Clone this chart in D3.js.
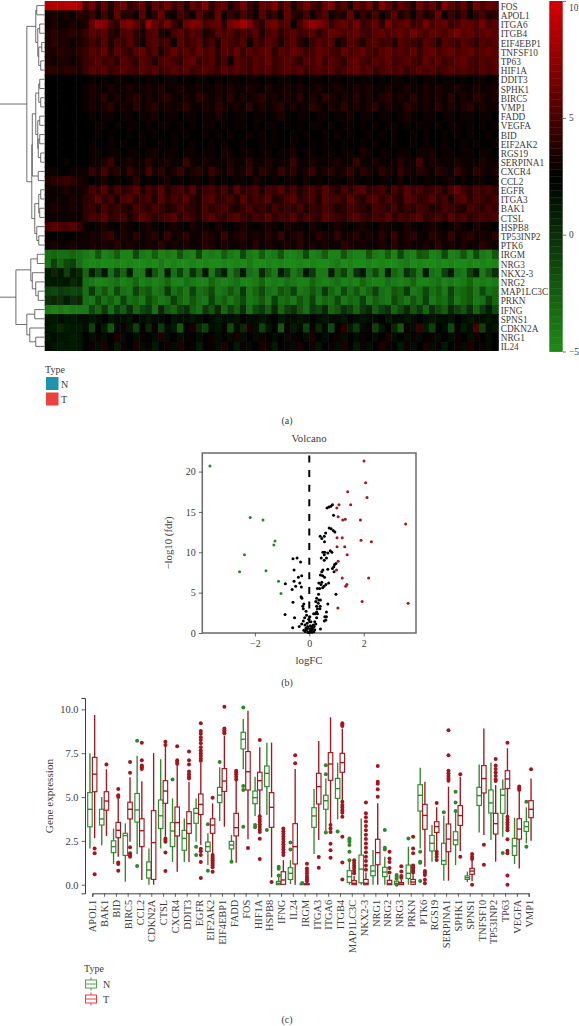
<!DOCTYPE html>
<html>
<head>
<meta charset="utf-8">
<script src="https://cdn.jsdelivr.net/npm/d3@7"></script>
<style>
  html, body { margin: 0; padding: 0; background: #fff; }
  svg { display: block; }
  text { font-family: "Liberation Serif", serif; fill: #3c3c3c; }
</style>
</head>
<body>
<svg id="chart" width="579" height="1026"></svg>
<script>
// heatmap rows, top to bottom
var heatGenes = ["FOS","APOL1","ITGA6","ITGB4","EIF4EBP1","TNFSF10","TP63","HIF1A","DDIT3","SPHK1","BIRC5","VMP1","FADD","VEGFA","BID","EIF2AK2","RGS19","SERPINA1","CXCR4","CCL2","EGFR","ITGA3","BAK1","CTSL","HSPB8","TP53INP2","PTK6","IRGM","NRG3","NKX2-3","NRG2","MAP1LC3C","PRKN","IFNG","SPNS1","CDKN2A","NRG1","IL24"];

// estimated by eye, first 6 columns are the N samples
var heatValues = [
[8.5,9,8.5,9,9,8.5, 5,6.5,4,6,3.5,5.5,6.5,4,5,6,3.5,6,5,6.5,4.5,5.5,3.5,6,5,7,4,5.5,6,3.5,5,6.5,4.5,3.5,6,5.5,7,4.5,6,3.5,5,6.5,5,4,6,7,4.5,5.5,3.5,6,5,6.5,4,7,5.5,4,6,5,3.5,6.5,5,6,4,7,5.5,4.5,6,3.5,6.5,5,6,5.5],
[3,3.5,3,3.5,3,4, 3.5,4.5,3,5,3,6,3.5,4,3,5.5,3,4,6,3.5,3,5,4,3,5.5,4,3.5,6,3,4.5,3.5,5,4,3,5.5,3.5,4.5,3,6,4,3.5,5,3,4.5,5.5,3,4,3.5,6,3,4.5,3.5,5,3,4,5.5,3.5,4.5,3,5,3.5,4,6,3,4.5,3.5,5,3,4,5,3.5,4],
[3,3.5,3,3,3.5,3, 3.5,6,7.5,7,5,4,6.5,7,5.5,4,7.5,6,5,6.5,4.5,3.5,6,7,6.5,5,5.5,6,4,6.5,7,8,7,5,4,6,6.5,5,5.5,3,5,6.5,7.5,7,6,4.5,5.5,6,5,6.5,4.5,5,6,4,6.5,5,5.5,6,4.5,5,6.5,5,5.5,6,4.5,5,6,5.5,5,6.5,5,5.5],
[3.5,4,3.5,3.5,4,3.5, 4.5,5.5,5,5.5,4,3.5,5,5.5,4,3.5,5,5.5,3.5,3,5,5.5,4.5,5.5,5,3.5,4,5.5,5,5.5,4,5,4.5,5.5,3.5,5,5.5,4,5,5.5,4.5,5,5.5,4,5,6,5.5,5,5.5,6,5,4.5,5.5,6,5,5.5,6,5,6.5,5.5,5,6,5.5,5,6,6.5,5.5,6,5,5.5,6,5.5],
[3.5,4,3.5,3.5,3,3.5, 4,5,4,5.5,3.5,5,4.5,5.5,4,3,5,5.5,4.5,5,3,5.5,4.5,5,5.5,4,5,3.5,5.5,5,4.5,5.5,3,5,4.5,5.5,5,3.5,5,5.5,4,3,4.5,5.5,5,5.5,3,4,5.5,5,3.5,5,5.5,4.5,5,3.5,5.5,5,4.5,4,5.5,5,3.5,5.5,5,4.5,5.5,5,4,5.5,5,5.5],
[3.5,3.5,4,3.5,3.5,4, 4.5,5.5,5,6,4,5.5,5,4,5.5,6,4.5,5.5,3.5,5,6,5,5.5,4.5,6,5,5.5,4,5.5,5,6,4.5,5.5,5,5.5,6,4,5.5,5,6,5.5,4.5,5,6,5.5,5,4.5,6,5,5.5,6,5,4.5,5.5,6,5,5.5,5,6,4.5,5.5,6,5,5.5,6,5,5.5,6,5,5.5,6,5.5],
[3.5,3,3.5,3.5,3,3.5, 4.5,5,5.5,4.5,5,4,5.5,5,4,5.5,5,3.5,5,5.5,5,4,5.5,6,4.5,5,5.5,4,5,3,5.5,5,4.5,5.5,5,6,4.5,5,5.5,5,4,5.5,5,6,4.5,5.5,5,4,5.5,6,5,4.5,5.5,5,6,4.5,5,5.5,5,4.5,6,5,5.5,4.5,5,5.5,6,5,4.5,5.5,5,5.5],
[4,4,3.5,4,4,3.5, 4.5,5.5,5,5.5,4.5,5,5.5,5,4.5,5.5,5,5.5,4.5,5,5.5,5,5.5,4.5,5,5.5,5,4.5,5.5,5,5.5,5,4.5,5.5,5,5.5,4.5,5,5.5,5,5.5,4.5,5,5.5,5,5.5,4.5,5,5.5,6,5,5.5,4.5,5,5.5,5,5.5,4.5,5,5.5,5,5.5,4.5,5,5.5,5,5.5,5,4.5,5.5,5,5.5],
[2.5,2.5,2.5,2.5,2.5,2.5, 2.5,3,2.5,3,2.5,3,3,2.5,3,2.5,3,3,2.5,3,3,2.5,3,2.5,3,3,2.5,3,2.5,3,3,2.5,3,3,2.5,3,2.5,3,3,2.5,3,2.5,3,3,2.5,3,3,2.5,3,2.5,3,3,2.5,3,2.5,3,3,2.5,3,2.5,3,3,2.5,3,3,2.5,3,2.5,3,3,2.5,3],
[2.5,2.5,2.5,2.5,2.5,2.5, 3,3.5,3,3,3.5,3,3,3.5,3,3,3.5,3,3.5,3,3,3.5,3,3,3.5,3,3,3.5,3,3.5,3,3,3.5,3,3,3.5,3,3,3.5,3,3.5,3,3,3.5,3,3,3.5,3,3,3.5,3,3.5,3,3,3.5,3,3,3.5,3,3,3.5,3,3.5,3,3,3.5,3,3,3.5,3,3,3.5],
[2.5,2.5,2.5,2.5,2.5,2.5, 3,3.5,3,4,3,3.5,3,3.5,4,3,3.5,3,3.5,4,3,3,3.5,3,4,3.5,3,3.5,3,4,3,3.5,3,3.5,4,3,3.5,3,3.5,3,4,3,3.5,3,4,3.5,3,3.5,3,4,3,3.5,3,3.5,4,3,3.5,3,4,3,3.5,3,3.5,3,4,3,3.5,3,4,3.5,3,3.5],
[2.5,2.5,2.5,2.5,2.5,2.5, 3,3.5,3,3.5,4,3,3.5,3,4,3,3.5,4,3,3.5,3,3.5,4,3,3,3.5,3,4,3.5,3,3.5,3,4,3,3.5,3,3.5,4,3,3.5,3,3,4,3.5,3,3.5,3,4,3,3.5,3,3.5,4,3,3.5,3,3,4,3.5,3,3.5,3,4,3,3.5,3,3.5,4,3,3.5,3,3],
[2.5,2.5,2.5,2.5,2.5,2.5, 2.5,3,2.5,3,3,2.5,3,3,2.5,3,3,3.5,2.5,3,3,2.5,3,3,2.5,3,3,3.5,3,2.5,3,3,2.5,3,3,2.5,3,3.5,3,2.5,3,3,2.5,3,3,2.5,3,3,3.5,2.5,3,3,2.5,3,3,2.5,3,3.5,3,2.5,3,3,2.5,3,3,2.5,3,3,2.5,3,3,2.5],
[2.5,2.5,2.5,2.5,2.5,2.5, 2.5,2.5,3,3,2.5,3,2.5,3,3,2.5,3,2.5,3,3,2.5,3,2.5,3,2.5,3,3,2.5,3,2.5,3,3,2.5,3,2.5,3,3,2.5,3,2.5,3,2.5,3,3,2.5,3,2.5,3,3,2.5,3,2.5,3,2.5,3,3,2.5,3,2.5,3,3,2.5,3,2.5,3,3,2.5,3,2.5,3,2.5,3],
[2.5,2.5,2.5,2.5,2.5,2.5, 2.5,2.5,3,2.5,3,2.5,2.5,3,2.5,3,2.5,3,2.5,2.5,3,2.5,3,2.5,2.5,3,2.5,3,2.5,3,2.5,2.5,3,2.5,3,2.5,3,2.5,2.5,3,2.5,3,2.5,2.5,3,2.5,3,2.5,3,2.5,2.5,3,2.5,3,2.5,3,2.5,2.5,3,2.5,3,2.5,2.5,3,2.5,3,2.5,3,2.5,2.5,3,2.5],
[2.5,2.5,2.5,2.5,2.5,2.5, 2.5,3,2.5,2.5,3,2.5,3,2.5,2.5,3,2.5,2.5,3,2.5,3,2.5,2.5,3,2.5,2.5,3,2.5,3,2.5,2.5,3,2.5,2.5,3,2.5,3,2.5,2.5,3,2.5,2.5,3,2.5,3,2.5,2.5,3,2.5,2.5,3,2.5,3,2.5,2.5,3,2.5,2.5,3,2.5,3,2.5,2.5,3,2.5,2.5,3,2.5,3,2.5,2.5,3],
[2.5,2.5,2.5,2.5,2.5,2.5, 2.5,3,3,2.5,3,3,2.5,3,3,2.5,3,3.5,2.5,3,3,2.5,3,3,2.5,3,3,2.5,3.5,3,2.5,3,3,2.5,3,3,2.5,3,3,3.5,2.5,3,3,2.5,3,3,2.5,3,3,2.5,3.5,3,2.5,3,3,2.5,3,3,2.5,3,3,3.5,2.5,3,3,2.5,3,3,2.5,3,3,2.5],
[2.5,2.5,2.5,3,2.5,2.5, 2.5,3,3,3.5,4.5,3,3,3.5,3,3,4,3,3,3.5,3,3,4.5,3,3,3.5,3,3,3,3.5,3,3,4,3,3,3.5,3,3,3,4.5,3,3,3.5,3,3,3,3.5,3,3,4.5,3,3,3.5,3,3,3,4,3,3,5,3,3.5,3,3,3,3.5,3,3,3,3.5,3,3],
[3,3,2.5,2.5,3,3, 3,4.5,3.5,5,3.5,4,3,4.5,3.5,3,5,3.5,4,3,3.5,4.5,3,3.5,4,3,4.5,3.5,3,4,3,3.5,4.5,3,4,3.5,3,4.5,3.5,4,3,3.5,4.5,3,3.5,4,3,3.5,4.5,3,4,3.5,3,4,3.5,3,4.5,3.5,3,4,3.5,3,4,3.5,3,4.5,3.5,3,4,3.5,3,3.5],
[3.5,4,4,4.5,4,3.5, 3,2.5,3,3.5,2.5,3,2.5,3,4,2.5,3,2.5,3,3.5,2.5,3,2.5,3,3,2.5,3.5,2.5,3,2.5,3,3,2.5,3.5,3,2.5,3,2.5,3,3,2.5,3.5,2.5,3,2.5,3,3,2.5,3.5,3,2.5,3,2.5,3,3,2.5,3.5,2.5,3,2.5,3,3,2.5,3,3.5,2.5,3,2.5,3,3,2.5,3],
[3,3,3,3.5,3,3, 3.5,5,4,5.5,3.5,5,4,4.5,5.5,3.5,5,4,5.5,3.5,4.5,5,4,5.5,3.5,4.5,5,4,5,3.5,5.5,4,4.5,5,3.5,5,4.5,5.5,4,5,3.5,4.5,5,4,5.5,4.5,3.5,5,4,5,5.5,4,4.5,5,3.5,5,4,5.5,4.5,5,4,4.5,5,3.5,5,6,4.5,4,5,4.5,5,4],
[3,3,3,3,3.5,3, 4,4.5,5.5,4,5,3.5,5,5.5,4,4.5,5,3.5,5.5,4,5,4.5,5.5,4,3.5,5,5.5,4,4.5,5,3.5,5.5,4,5,4.5,5.5,3.5,4,5,5.5,4,4.5,5,3.5,5.5,4.5,5,4,5.5,4.5,3.5,5,5.5,4,5,4.5,3.5,5.5,5,4,4.5,5.5,4,5,3.5,5,5.5,4,5,4.5,4,5],
[3,3.5,3,3,3.5,3, 4,4.5,3.5,5,4,4.5,4,3.5,5,4.5,4,5,4.5,3.5,4,5,4.5,4,3.5,5,4,4.5,5,4,3.5,4.5,5,4,4.5,3.5,5,4,4.5,4,5,3.5,4.5,4,5,4.5,3.5,4,5,4.5,4,3.5,5,4.5,4,5,3.5,4.5,4,5,4.5,3.5,4,5,4.5,4,3.5,5,4.5,4,5,4.5],
[3,3,3,3,3,3, 4,5,4.5,5.5,4,4.5,5,3.5,4.5,5.5,5,4,4.5,5,5.5,4,5,4.5,3.5,5,5.5,4.5,4,5,5.5,4.5,4,5,4.5,5.5,4,5,4.5,5.5,4,5,4.5,4,5.5,5,4.5,4,5,5.5,4.5,4,5,4.5,5.5,4,5,4.5,5,5.5,4,4.5,5,4,5.5,4.5,5,4,4.5,5,4.5,5],
[5,5.5,5,5,5.5,4.5, 3,2.5,3,3.5,3,2.5,3.5,3,2.5,3,3.5,3,2.5,3,3.5,3,2.5,3.5,3,3,2.5,3.5,3,2.5,3,3.5,3,2.5,3,3.5,3,2.5,3.5,3,3,2.5,3.5,3,2.5,3,3.5,3,2.5,3,3.5,3,2.5,3.5,3,3,2.5,3.5,3,2.5,3,3.5,3,2.5,3,3.5,3,2.5,3.5,3,3,2.5],
[2.5,2.5,3,2.5,2.5,3, 3,3.5,3,4,4.5,3,3.5,3,4,3,3.5,4,3,4.5,3,3.5,4,3,3,4,3.5,3,4.5,3,3.5,4,3,3.5,3,4,3,4.5,3,3.5,4,3,3,4,3.5,3,4.5,3,3.5,4,3,3.5,3,4,3,4.5,3,3.5,4,3,3,4,3.5,3,4.5,3,3.5,4,3,3.5,3,4],
[3,3.5,3,3,3.5,3, 3,3.5,3,3.5,3,4,3,3.5,3,3,3.5,3,4,3,3.5,3,3.5,3,3,4,3.5,3,3.5,3,3,3.5,3,4,3,3.5,3,3,3.5,3,4,3,3.5,3,3.5,3,3,4,3.5,3,3.5,3,3,3.5,3,4,3,3.5,3,3,3.5,3,4,3,3.5,3,3.5,3,3,4,3.5,3],
[-3.5,-3,-3.5,-3.5,-3,-3.5, -4,-4.5,-2,-4.5,-4,-2.5,-4.5,-4.5,-1.5,-4,-4.5,-2.5,-4.5,-4,-4.5,-2,-4,-4.5,-1.5,-4.5,-4,-4.5,-2.5,-4,-4.5,-1.5,-4,-4.5,-2.5,-4.5,-4,-2,-4.5,-4.5,-4,-1.5,-4.5,-4,-2.5,-4.5,-4.5,-2,-4,-4.5,-4.5,-2,-4,-4.5,-2.5,-4.5,-1.5,-4,-4.5,-2,-2.5,-4.5,-4,-1.5,-4.5,-4,-2,-4.5,-1.5,-4,-4.5,-2],
[-3.5,-1,-3,-1.5,-1,-3.5, -4.5,-5,-4.5,-5,-5,-4.5,-5,-4.5,-5,-5,-4.5,-5,-4,-5,-4.5,-5,-5,-4.5,-5,-4.5,-5,-5,-4.5,-5,-4.5,-5,-4,-5,-5,-4.5,-5,-4.5,-5,-5,-4.5,-5,-4.5,-5,-5,-4.5,-4,-5,-4.5,-5,-5,-4.5,-5,-4.5,-5,-5,-4.5,-4,-5,-4.5,-5,-5,-4.5,-5,-4.5,-5,-5,-4.5,-5,-4.5,-5,-4.5],
[1.5,0.5,1.5,-1,1,0.5, -3,1,-1.5,1.5,-3.5,-0.5,-3,1,-4,-4,1.5,-2,-4,1,-3.5,-1,-4,0,-3,1.5,-4,-1,1,-4,-2,1.5,-3.5,-4,0.5,-2.5,-4,1,-1,-4,-3,1.5,-0.5,-4,-4,1,-3,-1,-4,0,1.5,-3.5,-1.5,-4,1,-3,-4,0,-1.5,-4,1,-3.5,-4,-1,1,-3.5,-4,-1,1,-4,-2,0],
[1,1.5,1,1.5,0.5,1, -3.5,-4,-4.5,-4.5,-4,-3.5,-4.5,-4,-3,-4.5,-4,-4.5,-4,-3,-4.5,-4.5,-3.5,-4,-4.5,-4.5,-3,-4,-4.5,-4,-3.5,-4.5,-4.5,-4,-3,-4.5,-4,-4.5,-3.5,-4,-4.5,-4.5,-3,-4,-4.5,-4,-3.5,-4.5,-4,-4.5,-3,-4,-4.5,-4.5,-3.5,-4,-4.5,-4,-3,-4.5,-4.5,-4,-3.5,-4.5,-4,-4.5,-4,-3,-4.5,-4,-4.5,-4],
[-1,-1.5,-0.5,-1,-1.5,-1, -3.5,-0.5,-3.5,-2,-4,-1.5,-3.5,-4,-1,-3,-2,-4,-3.5,-0.5,-3.5,-2.5,-4,-1,-3.5,-3,-1.5,-4,-3.5,-2,-3.5,-0.5,-4,-3,-1.5,-3.5,-4,-2,-3,-1,-4,-3.5,-2,-3.5,-0.5,-3,-4,-1.5,-3.5,-2,-4,-3,-1,-3.5,-4,-2,-3,-0.5,-4,-3.5,-1.5,-3.5,-2.5,-4,-1,-3.5,-3,-2,-4,-1.5,-3.5,-3],
[0,0.5,0,1,0,0.5, -3.5,-4,-1.5,-3.5,-2.5,-4,-1,-3.5,-3,-4,-1.5,-3,-4,-3.5,-1,-3,-4,-2,-3.5,-4,-1,-3.5,-2.5,-4,-3,-1.5,-4,-3.5,-2,-4,-1,-3.5,-3,-4,-2,-3.5,-1,-4,-3,-3.5,-1.5,-4,-3,-3.5,-1,-4,-2.5,-3.5,-4,-1.5,-3,-4,-2,-3.5,-1,-4,-3,-3.5,-1.5,-4,-3,-2,-4,-3.5,-1,-3],
[-4,-4.5,-4,-4.5,-4,-4, -4,-1.5,-3,-0.5,-3.5,-1,-2.5,0,-3,-1.5,-0.5,-3.5,0.5,-2,-3,-1,0,-2.5,-3.5,-0.5,-2,0.5,-3,-1,-2.5,0,-3.5,-1.5,-0.5,-2.5,0.5,-3,-1,0,-2,-3.5,-0.5,-1.5,0.5,-3,-2,0,-1,-3,-0.5,0.5,-2.5,-1,0,-3,-1.5,0.5,-2,-0.5,-3,0,-1.5,-2.5,0.5,-1,-2,0,-3,-0.5,1,-1.5],
[1.5,1.5,2,1.5,1.5,2, 2,1.5,2,2.5,1.5,2,2,1.5,2.5,2,1.5,2,2,2.5,1.5,2,2,1.5,2,2.5,2,1.5,2,2,1.5,2.5,2,2,1.5,2,2.5,1.5,2,2,1.5,2,2.5,2,1.5,2,2,1.5,2.5,2,1.5,2,2,2.5,1.5,2,2,1.5,2,2.5,2,1.5,2,2,1.5,2.5,2,1.5,2,2,1.5,2],
[1.5,1,0.5,1,1.5,1, 2,-1,2.5,1,-2,2,3,1.5,-1,2.5,0.5,3,-0.5,2,1,-2,2.5,3.5,0.5,-1,2,1.5,3,-1.5,2,0.5,3.5,2,-1,1.5,2.5,-2,3,1,2,-1,3,0.5,2,-1.5,2.5,4,1,-0.5,2,3,-1,1.5,2.5,0.5,-2,3,2,4.5,1,-1,2.5,2,-1.5,3,1,2,5,-1,2,1.5],
[1.5,2,1.5,1.5,1,1.5, 2.5,2,3,2,2.5,3.5,2,2.5,2,3,2.5,2,3.5,2,2.5,2,3,2.5,2,2.5,3,2,2.5,2,3.5,2,2.5,2,3,2.5,2,2.5,2,3,2.5,2,3.5,2.5,2,2.5,3,2,2.5,2,3,2.5,2,2.5,3.5,2,2.5,2,3,2,2.5,3,2,2.5,2,3,2.5,2,3,2.5,2,2.5],
[2,1.5,1,1.5,1,1.5, 2.5,3,2,3.5,2.5,1,3,2.5,3.5,2,3,1,2.5,3,2,3.5,2.5,3,1,2.5,3,2,3.5,2.5,1,3,2,2.5,3.5,3,1,2.5,3,2,3.5,2.5,3,1.5,2.5,3,2,3.5,2.5,1,3,2,2.5,3.5,3,2.5,1,3,2,2.5,3.5,2,3,1,2.5,3,2,3.5,2.5,3,2,2.5]
];

// dendrogram as nested [height, left, right], numbers are row indexes
var heatTree = [47,
  [18,
    [9,[8,0,1],[7,[5,2,3],[6,[3,4,5],[4,6,7]]]],
    [13,
      [12.5,[9,[6,[5,8,9],[4,10,11]],[7,[5,12,13],[6.5,[5,14,15],[4,16,17]]]],[6.5,18,19]],
      [10,[6,[4,20,21],[5,22,23]],[8,24,[6,25,26]]]]],
  [29,
    [14,[7.5,27,28],[12.5,29,[9,30,[6.5,31,32]]]],
    [18,[10,33,34],[15,35,[9,36,37]]]]];

var heatLegendTicks = [10, 5, 0, -5];

// volcano points [logFC, -log10 fdr]
var volcanoDown = [[-3.65,20.7],[-2.17,14.3],[-1.7,14],[-1.26,11.4],[-1.3,10.9],[-2.38,9.7],[-2.56,7.6],[-1.59,7.7],[-1.13,6.4],[-1.04,4.9]];
var volcanoUp = [[2.01,21.3],[2.07,18.6],[1.41,17.5],[2.12,16.8],[1.09,15.9],[1.52,15.9],[1.01,15.5],[1.06,14.4],[1.23,14],[1.32,14.1],[1.88,14],[3.54,13.5],[1.02,11.8],[1.21,11.8],[1.9,11.5],[2.28,11.3],[1.02,10.7],[1.3,10.7],[1.39,9.7],[1.06,8.9],[1,7.8],[1.21,6.8],[2.18,6.8],[1.38,6],[1.34,5.8],[1.94,3.9],[1.05,3.1],[3.63,3.7]];
var volcanoFlat = [[0.65,15.5],[0.72,15.6],[0.79,15.7],[0.85,15.9],[0.89,14.6],[0.73,13],[0.8,12.9],[0.88,12.7],[0.94,12.5],[0.6,12.4],[0.4,12],[0.55,12],[0.46,11.7],[0.56,11.3],[0.77,10.2],[0.57,10],[0.5,10],[0.68,9.9],[0.83,10],[0.55,9.7],[0.44,9.3],[0.63,9.3],[0.55,9],[0.93,8.5],[0.98,8.6],[0.9,8.2],[0.85,8],[0.68,7.9],[0.5,7.8],[0.46,7.6],[0.91,7.6],[0.41,7.2],[0.49,7.1],[0.56,6.9],[0.35,6.2],[0.46,6.3],[0.71,6.2],[0.61,6],[0.54,5.8],[0.43,6],[0.49,5.6],[0.38,5.5],[0.3,5.5],[0.98,4.8],[0.34,4.8],[0.27,4.3],[0.35,4.1],[0.41,4.1],[0.24,3.9],[0.33,3.7],[0.68,3.6],[0.27,3.3],[0.4,3.3],[0.3,3],[0.39,3],[0.27,2.6],[0.16,2.4],[0.22,2.4],[0.3,2.4],[0.63,2.6],[0.57,2],[0.63,2],[0.61,1.6],[0.55,1.5],[0.27,1.9],[0.2,1.4],[0.15,1],[0.24,1.1],[0.18,0.8],[0.41,0.5],[0.12,0.5],[-0.6,9.2],[-0.45,9.3],[-0.32,8.8],[-0.56,7.8],[-0.28,7.1],[-0.4,6.9],[-0.56,6.4],[-0.88,6.1],[-0.35,6.2],[-0.29,5.7],[-0.63,5.4],[-0.5,5.8],[-0.3,4.5],[-0.27,4.3],[-0.6,3.8],[-0.2,3.6],[-0.24,3.3],[-0.22,3],[-0.12,2.7],[-0.89,2.3],[-0.1,2.2],[-0.54,1.9],[-0.17,1.9],[-0.22,1.5],[-0.28,1.1],[-0.37,0.8],[-0.61,0.65],[-0.16,1],[-0.12,0.6],[-0.05,0.1],[0.02,0.2],[0.08,0.3],[-0.1,0.4],[0.05,0.5],[-0.03,0.6],[0.1,0.1],[-0.15,0.2],[0,0.05],[-0.06,0.8],[0.04,0.9],[-0.08,1.2],[0.06,1.4],[-0.02,1.7],[0.02,2],[0.1,0.7],[-0.2,0.35],[0.17,0.15],[0.2,0.4],[0.14,0.9]];

// boxplot genes, alphabetical
var boxGenes = ["APOL1","BAK1","BID","BIRC5","CCL2","CDKN2A","CTSL","CXCR4","DDIT3","EGFR","EIF2AK2","EIF4EBP1","FADD","FOS","HIF1A","HSPB8","IFNG","IL24","IRGM","ITGA3","ITGA6","ITGB4","MAP1LC3C","NKX2-3","NRG1","NRG2","NRG3","PRKN","PTK6","RGS19","SERPINA1","SPHK1","SPNS1","TNFSF10","TP53INP2","TP63","VEGFA","VMP1"];

// [low whisker, q1, median, q3, high whisker]
var normalStats = [[2.07,3.3,4.3,5.25,7.5],[2.25,3.4,3.75,4.3,5],[1.18,1.83,2.17,2.5,3.2],[0.17,1.67,2.8,2.93,3.5],[1.75,3.57,4.26,5.2,7.35],[0,0.38,0.84,1.3,2.07],[2.07,3.2,3.93,4.83,7.15],[1.3,2.17,3.06,3.54,4.92],[1.3,1.96,2.64,3.1,3.78],[2.45,3.5,4.07,4.35,4.92],[1.12,1.9,2.17,2.43,2.93],[3.63,4.68,5.11,5.55,6.69],[1.4,2.04,2.26,2.47,2.83],[6.58,7.74,8.29,8.69,9.45],[3.92,4.62,4.96,5.34,6.16],[3.97,5.59,6.35,6.77,8.1],[0,0,0.08,0.19,0.46],[0.04,0.3,0.65,0.97,1.4],[0,0,0.02,0.05,0.08],[1.75,3.27,3.92,4.39,5.46],[3.02,4.3,4.79,5.1,6.06],[3.73,4.92,5.48,6.06,6.96],[0,0.13,0.46,0.8,1.4],[0,0.11,0.89,1.69,3.78],[0,0.51,0.78,1.08,1.98],[0,0.46,0.72,0.99,1.6],[0,0.02,0.08,0.2,0.45],[0,0.36,0.65,1.12,2.17],[2.07,4.2,5.1,5.7,6.67],[1.31,1.92,2.36,2.81,3.4],[0.23,1.16,1.37,2.36,3.94],[1.12,2.28,2.55,3.02,4.16],[0.15,0.3,0.4,0.5,0.75],[2.97,4.52,5.08,5.55,6.86],[2.55,4.09,4.66,5.4,6.96],[2.74,4.07,5.1,5.44,6],[1.18,1.67,2.21,2.64,3.82],[2.36,3.04,3.31,3.59,4.41]];
var tumorStats = [[2.65,5.3,6.3,7.26,9.68],[2.78,4.25,4.77,5.3,6.58],[1.6,2.68,3.1,3.55,4.9],[2.45,3.75,4.3,4.7,6.12],[0.27,2.17,3.08,3.76,5.9],[0,0.3,2.4,4.22,7.5],[2.74,4.64,5.34,5.93,7.9],[0.74,2.78,3.54,4.43,6.9],[1.3,2.93,3.48,4.16,5.87],[2.26,4,4.58,5.17,6.96],[1.7,2.93,3.4,3.76,4.64],[3.31,5.32,5.91,6.62,8.5],[1.25,2.78,3.25,4.07,5.97],[2.59,5.4,6.44,7.59,9.92],[3.88,5.4,5.93,6.41,7.83],[0.42,3.27,4.41,5.25,8.1],[0,0.02,0.27,0.74,1.4],[0,1.18,2.17,3.48,6.6],[0,0,0.02,0.06,0.15],[2.55,4.6,5.59,6.35,8.19],[3.46,5.95,6.88,7.53,9.54],[4.83,6.41,6.96,7.49,8.9],[0,0,0.08,0.23,0.5],[0,0,0.08,0.3,0.7],[0,1.14,1.83,2.59,4.64],[0,0,0.06,0.25,0.55],[0,0,0.04,0.12,0.3],[0,0.02,0.15,0.3,0.6],[1.03,3.16,3.95,4.58,5.87],[1.98,2.98,3.31,3.59,4.41],[0.23,1.88,2.6,3.46,5.59],[1.92,3.38,3.94,4.51,6.16],[0.2,0.59,0.78,0.93,1.4],[2.83,5.23,6.05,6.79,8.9],[1.31,2.89,3.48,4.07,5.68],[3.97,5.48,6.03,6.5,7.78],[0.93,2.6,3.17,3.76,5.3],[2.51,3.82,4.3,4.79,6.06]];

var normalOutliers = [[],[],[],[],[8.2,1.06],[],[],[6],[],[2.17,1.7],[3.44,0.8],[7],[1.31],[10.1,5.63,5.4,3.31],[3.4,3.27],[3.12],[1.03,0.91,0.53],[2.4,2],[0.1],[],[6.81,6.29,2.97],[3.04],[2.64,2.55,2.45,2.26,1.88,1.4],[],[],[3.12,2.11,2],[0.55,0.45,0.35,0],[2.64],[1.88,1.31,1.25,0.21],[],[4.13],[5.3,4.68,4.2],[],[],[],[1.81],[],[4.73,2.17]];
var tumorOutliers = [[2.07,1.8,0.6],[6.85],[5.45,5.1,5,1.27,1.18,0.8],[7,6.38,2.13,1.8,1.7,1.6],[8.1,7.1,6.8,6.7,6.6],[],[8.15,7.97,2.64,2.55,2.45,1.83,0.78],[7.9,7.1,7,6.9],[7.6,7.1,6.85,6.45,6.3,6.15,6.06],[9.2,8.76,8.6,8.4,8.25,8.06,7.83,7.65,7.5,7.35,7.2,7.07,2.05,1.9,1.7,1.3,0.38],[4.96,1.7,1.6,1.5,1.4,1.3,1.2,1.1,1,0.74],[10.15,8.9,8.8,8.7,8.63],[6.5,6.4,6.3,6.15,6],[2.09],[8.25,3.9,3.75,3.6,3.45,3.3,3.15,3,2.62,1.46],[0.15],[3.2,3.05,2.9,2.75,2.6,2.45,2.3,2.15,2,1.85,1.7],[7.38,6.92],[1.2,0.93,0.8,0.65,0.5,0.4,0.3,0.2],[1.58,0.97],[3.4,3.2,3,2.34,1.96,1.54],[9.2,9.12,9.05,4.73,4.55,4.4,4.25,4.1,3.88,2.74,1.27,0.3],[1.4,1.25,1.1,0.95,0.8,0.65],[4.68,4.07,3.85,3.6,3.35,3.1,2.85,2.6,2.35,2.1,1.85,1.6,1.35,1.1,0.85],[6.77,5.87,5.75,5.44,5.02],[1.88,1.5,1.3,0.95,0.7],[1.05,0.75,0.5,0.4],[2.74,2.07,1.79,1.1,1,0.9,0.8,0.7],[0.78,0.68,0.55,0.28,0.08],[4.66,1.88,1.75,1.6,1.41],[8.8,7.38,6.5,6.35,6.2,6.05,5.93],[6.29,1.6],[1.75,1.6,1.46,0],[2.28,1.14],[7.17,6.8,6.6,6.4,6.2,6,5.91],[8.1,3.87,3.7,3.55,3.4,3.25,3.1,2.59,1.93,1.79,0.53,0],[5.6,5.5,5.4],[6.58]];

var boxYTicks = [0, 2.5, 5, 7.5, 10];

var svg = d3.select("#chart");
var heatGreen = "#1f8a17", heatRed = "#d60000";
var normalColor = "#2c8a2c", tumorColor = "#a5141f";
var inkColor = "#3c3c3c";

function addText(x, y, str, size, anchor) {
    return svg.append("text")
        .attr("x", x).attr("y", y)
        .attr("font-size", size)
        .attr("text-anchor", anchor || "start")
        .text(str);
}

// ---------- (a) heatmap ----------
var heatColor = d3.scaleLinear().domain([-5, 2.5, 10]).range([heatGreen, "#000000", heatRed]);
var heatY = d3.scaleBand().domain(d3.range(heatGenes.length)).range([1, 351]);

svg.append("defs").append("filter").attr("id", "soft")
    .attr("x", "0").attr("y", "0").attr("width", "1").attr("height", "1")
    .append("feGaussianBlur").attr("stdDeviation", "0.6 0.3");

var heatCells = svg.append("g").attr("filter", "url(#soft)");
heatValues.forEach(function(row, r) {
    var heatX = d3.scaleBand().domain(d3.range(row.length)).range([44.7, 498.3]);
    heatCells.selectAll(null)
        .data(row)
        .enter()
        .append("rect")
        .attr("x", function(d, c) { return heatX(c); })
        .attr("y", heatY(r))
        .attr("width", heatX.bandwidth() + 0.5)
        .attr("height", heatY.bandwidth() + (r < heatValues.length - 1 ? 1 : 0))
        .attr("fill", function(d) { return heatColor(d); });
});

heatGenes.forEach(function(g, r) {
    addText(500.7, heatY(r) + heatY.bandwidth() / 2 + 4.1, g, 9.3);
});

// dendrogram, recursive so the brackets follow the rows
var treeX = d3.scaleLinear().domain([0, 45]).range([44.7, 0]);
var treePath = d3.path();
function drawTree(node) {
    if (typeof node === "number") {
        return { y: heatY(node) + heatY.bandwidth() / 2, h: 0 };
    }
    var a = drawTree(node[1]), b = drawTree(node[2]);
    treePath.moveTo(treeX(a.h), a.y);
    treePath.lineTo(treeX(node[0]), a.y);
    treePath.lineTo(treeX(node[0]), b.y);
    treePath.lineTo(treeX(b.h), b.y);
    return { y: (a.y + b.y) / 2, h: node[0] };
}
drawTree(heatTree);
svg.append("path").attr("d", treePath.toString())
    .attr("fill", "none").attr("stroke", "#4a4a4a").attr("stroke-width", 0.8);

// colour bar
var barY = d3.scaleLinear().domain([-5, 10]).range([351.5, 1]);
var barSteps = d3.range(50).map(function(i) { return -5 + i * 0.3; });
svg.append("g").selectAll("rect")
    .data(barSteps)
    .enter()
    .append("rect")
    .attr("x", 549.3)
    .attr("width", 13.4)
    .attr("y", function(d) { return barY(d + 0.3); })
    .attr("height", barY(0) - barY(0.3) + 0.4)
    .attr("fill", function(d) { return heatColor(d + 0.15); });

var barAxis = svg.append("g")
    .attr("transform", "translate(563,0)")
    .call(d3.axisRight(barY).tickValues(heatLegendTicks).tickSize(3).tickPadding(3)
        .tickFormat(function(d) { return d < 0 ? "\u2212" + (-d) : d; }));
barAxis.select(".domain").remove();
barAxis.selectAll("line").attr("stroke", inkColor).attr("stroke-width", 0.7);
barAxis.selectAll("text").attr("font-size", 9.3).style("font-family", '"Liberation Serif", serif').attr("fill", inkColor);
// top label would poke out of the window
barAxis.selectAll("text").filter(function(d) { return d === 10; }).attr("dy", "1.05em");

addText(45, 373, "Type", 10);
svg.append("rect").attr("x", 46).attr("y", 377).attr("width", 12.5).attr("height", 13).attr("fill", "#1e93ad");
svg.append("rect").attr("x", 46).attr("y", 392.5).attr("width", 12.5).attr("height", 13).attr("fill", "#ef4040");
addText(61, 388, "N", 10);
addText(61, 403, "T", 10);
addText(287, 424, "(a)", 10, "middle");

// ---------- (b) volcano ----------
var volX = d3.scaleLinear().domain([-3.93, 3.92]).range([202.3, 416]);
var volY = d3.scaleLinear().domain([0, 22.3]).range([633, 453]);

svg.append("rect")
    .attr("x", volX.range()[0]).attr("y", volY.range()[1])
    .attr("width", volX.range()[1] - volX.range()[0])
    .attr("height", volY.range()[0] - volY.range()[1])
    .attr("fill", "none").attr("stroke", "#6a6a6a").attr("stroke-width", 1.5);

function volAxisStyle(g) {
    g.select(".domain").remove();
    g.selectAll("line").attr("stroke", inkColor).attr("stroke-width", 0.8);
    g.selectAll("text").attr("font-size", 10).style("font-family", '"Liberation Serif", serif').attr("fill", inkColor);
}
svg.append("g").attr("transform", "translate(0,633)")
    .call(d3.axisBottom(volX).tickValues([-2, 0, 2]).tickSize(3.5).tickPadding(3)
        .tickFormat(function(d) { return d < 0 ? "\u2212" + (-d) : d; }))
    .call(volAxisStyle);
svg.append("g").attr("transform", "translate(202.3,0)")
    .call(d3.axisLeft(volY).tickValues([0, 5, 10, 15, 20]).tickSize(3.5).tickPadding(3))
    .call(volAxisStyle);

svg.append("line")
    .attr("x1", volX(0)).attr("x2", volX(0))
    .attr("y1", 455.5).attr("y2", 633)
    .attr("stroke", "#000").attr("stroke-width", 2)
    .attr("stroke-dasharray", "7 7.6");

function volPoints(data, color) {
    svg.append("g").selectAll("circle")
        .data(data)
        .enter()
        .append("circle")
        .attr("cx", function(d) { return volX(d[0]); })
        .attr("cy", function(d) { return volY(d[1]); })
        .attr("r", 1.5)
        .attr("fill", color);
}
volPoints(volcanoFlat, "#000");
volPoints(volcanoDown, "#1f8a2b");
volPoints(volcanoUp, "#a5141f");

addText(309, 442, "Volcano", 10.8, "middle");
addText(309, 664, "logFC", 10.8, "middle");
addText(0, 0, "\u2212log10 (fdr)", 10.8, "middle")
    .attr("transform", "translate(172,543) rotate(-90)");
addText(287, 686, "(b)", 10, "middle");

// ---------- (c) boxplots ----------
var boxX = d3.scalePoint().domain(boxGenes).range([92.3, 528.7]);
var boxY = d3.scaleLinear().domain([0, 10]).range([884.7, 709.3]);
var dodge = 2.35, boxWidth = 4.5;

function drawBoxes(stats, outliers, color, offset) {
    var g = svg.append("g");
    boxGenes.forEach(function(gene, i) {
        var s = stats[i], cx = boxX(gene) + offset;
        g.append("line")
            .attr("x1", cx).attr("x2", cx)
            .attr("y1", boxY(s[0])).attr("y2", boxY(s[4]))
            .attr("stroke", color).attr("stroke-width", 1.35);
        g.append("rect")
            .attr("x", cx - boxWidth / 2).attr("width", boxWidth)
            .attr("y", boxY(s[3])).attr("height", boxY(s[1]) - boxY(s[3]))
            .attr("fill", "#fff").attr("stroke", color).attr("stroke-width", 1.15);
        g.append("line")
            .attr("x1", cx - boxWidth / 2).attr("x2", cx + boxWidth / 2)
            .attr("y1", boxY(s[2])).attr("y2", boxY(s[2]))
            .attr("stroke", color).attr("stroke-width", 1.4);
        g.selectAll(null)
            .data(outliers[i])
            .enter()
            .append("circle")
            .attr("cx", cx)
            .attr("cy", function(d) { return boxY(d); })
            .attr("r", 2)
            .attr("fill", color);
    });
}
drawBoxes(normalStats, normalOutliers, normalColor, -dodge);
drawBoxes(tumorStats, tumorOutliers, tumorColor, dodge);

var boxLeftAxis = svg.append("g").attr("transform", "translate(85,0)")
    .call(d3.axisLeft(d3.scaleLinear().domain([-0.49, 10.65]).range([893.3, 698]))
        .tickValues(boxYTicks).tickSize(3.5).tickPadding(3).tickFormat(d3.format(".1f")));
var boxBottomAxis = svg.append("g").attr("transform", "translate(0,893.3)")
    .call(d3.axisBottom(d3.scalePoint().domain(boxGenes).range([92.3, 528.7])).tickSize(3.5).tickPadding(3));
d3.selectAll([boxLeftAxis.node(), boxBottomAxis.node()]).each(function() {
    var g = d3.select(this);
    g.select(".domain").attr("stroke", inkColor).attr("stroke-width", 1);
    g.selectAll("line").attr("stroke", inkColor).attr("stroke-width", 0.8);
    g.selectAll("text").attr("font-size", 10.4).style("font-family", '"Liberation Serif", serif').attr("fill", inkColor);
});
boxBottomAxis.selectAll("text")
    .attr("transform", "rotate(-90)")
    .attr("x", -6.5).attr("y", 0).attr("dy", "0.35em")
    .attr("text-anchor", "end");

addText(0, 0, "Gene expression", 11.2, "middle")
    .attr("transform", "translate(53,796) rotate(-90)");

// legend keys
addText(84, 972, "Type", 10);
[["N", "#55a055", 984], ["T", "#e83c3c", 999]].forEach(function(k) {
    var key = svg.append("g").attr("stroke", k[1]).attr("fill", "none");
    key.append("line").attr("x1", 91).attr("x2", 91).attr("y1", k[2] - 6.5).attr("y2", k[2] + 6.5);
    key.append("rect").attr("x", 85.5).attr("y", k[2] - 4).attr("width", 11).attr("height", 8).attr("fill", "#fff");
    key.append("line").attr("x1", 85.5).attr("x2", 96.5).attr("y1", k[2]).attr("y2", k[2]);
    addText(103, k[2] + 4, k[0], 10);
});
addText(287, 1023, "(c)", 10, "middle");
</script>
</body>
</html>
